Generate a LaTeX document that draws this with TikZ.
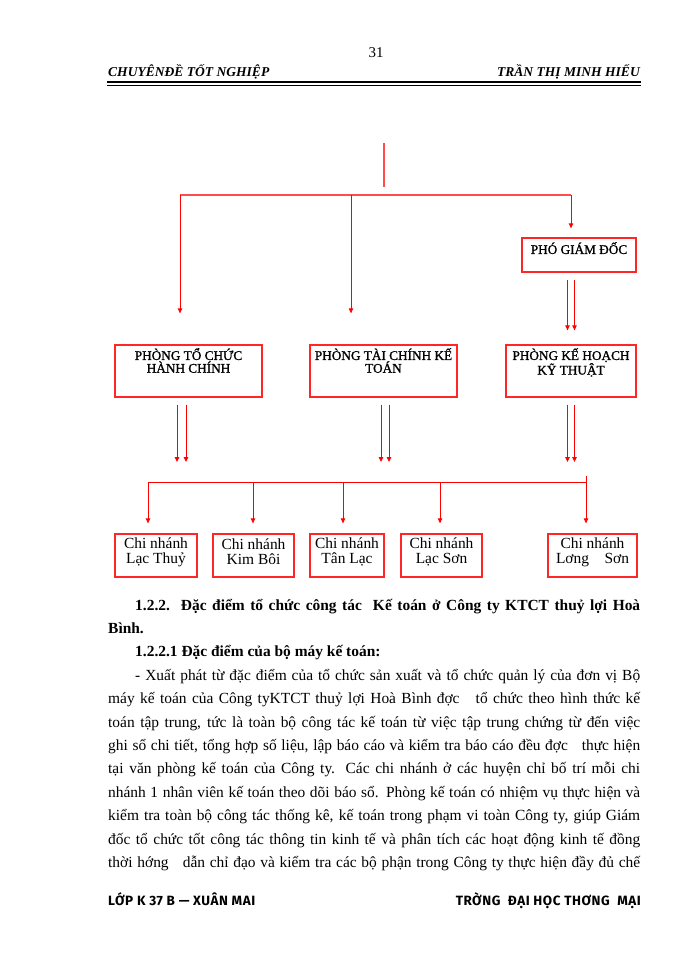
\documentclass[tikz,border=0pt]{standalone}
\usepackage{fontspec}
\setmainfont{Liberation Serif}
\newfontfamily\brushfont[LetterSpace=4]{Fira Sans}
\newfontfamily\boxfont[FakeBold=1.2]{Liberation Serif}
\usetikzlibrary{arrows.meta}
\begin{document}
\begin{tikzpicture}[x=1bp,y=-1bp,
  topline/.style={draw=red!70, line width=1.6bp},
  arr/.style={draw=red, line width=0.9bp, -{Triangle[length=5bp,width=4.5bp]}},
  plain/.style={draw=red, line width=0.9bp},
  box/.style={draw=red!85, line width=1.3bp, inner sep=0pt},
  boxlbl/.style={inner sep=0pt, align=center, font=\fontsize{13.3}{12.8}\selectfont\boxfont},
  cnlbl/.style={inner sep=0pt, align=center, font=\fontsize{15.5}{15}\selectfont},
  body/.style={inner sep=0pt, anchor=base west, font=\fontsize{15.5}{18}\selectfont},
  hdr/.style={inner sep=0pt, font=\fontsize{13.6}{15}\selectfont\bfseries\itshape},
  ftr/.style={inner sep=0pt, font=\fontsize{13.5}{15}\selectfont\brushfont\bfseries}
]
\fill[white] (0,0) rectangle (700,960);
\useasboundingbox (0,0) rectangle (700,960);

% header
\node[inner sep=0pt, font=\fontsize{15}{17}\selectfont] (pg) at (376,53) {31};
\node[hdr, anchor=base west] (hl) at (108,76) {CHUYÊNĐỀ TỐT NGHIỆP};
\node[hdr, anchor=base east] (hr) at (640,76) {TRẦN THỊ MINH HIẾU};
\coordinate (rl) at (107,82);
\coordinate (rr) at (641,82);
\draw[line width=1.5bp] (rl) -- (rr);
\draw[line width=0.6bp] ([yshift=-3bp]rl) -- ([yshift=-3bp]rr);

% boxes
\node[box, minimum width=114bp, minimum height=34bp] (pgd) at (579,255) {};
\node[boxlbl, anchor=north] (pgdt) at (579,242) {PHÓ GIÁM ĐỐC};
\node[box, minimum width=147bp, minimum height=52bp] (b1) at (188.5,371) {};
\node[boxlbl, anchor=north] (b1t) at (188.5,348) {PHÒNG TỔ CHỨC\\HÀNH CHÍNH};
\node[box, minimum width=147bp, minimum height=52bp] (b2) at (383.5,371) {};
\node[boxlbl, anchor=north] (b2t) at (383.5,348) {PHÒNG TÀI CHÍNH KẾ\\TOÁN};
\node[box, minimum width=130bp, minimum height=52bp] (b3) at (571,371) {};
\node[boxlbl, anchor=north] (b3t) at (571,348) {PHÒNG KẾ HOẠCH\\KỸ THUẬT};

\node[box, minimum width=82bp, minimum height=43bp] (cA) at (156,555.5) {};
\node[cnlbl] (cAt) at (156,552) {Chi nhánh\\Lạc Thuỷ};
\node[box, minimum width=81bp, minimum height=43bp] (cB) at (253.5,555.5) {};
\node[cnlbl] (cBt) at (253.5,552) {Chi nhánh\\Kim Bôi};
\node[box, minimum width=74bp, minimum height=43bp] (cC) at (347,555.5) {};
\node[cnlbl] (cCt) at (347,552) {Chi nhánh\\Tân Lạc};
\node[box, minimum width=81bp, minimum height=43bp] (cD) at (441.5,555.5) {};
\node[cnlbl] (cDt) at (441.5,552) {Chi nhánh\\Lạc Sơn};
\node[box, minimum width=89bp, minimum height=43bp] (cE) at (592.5,555.5) {};
\node[cnlbl] (cEt) at (592.5,552) {Chi nhánh\\Lơng\ \ \ \ Sơn};

% top connectors
\coordinate (t0) at (384,143);
\coordinate (t1) at (384,187);
\draw[topline] (t0) -- (t1);
\coordinate (h1) at (180,195);
\coordinate (h2) at (571,195);
\coordinate (h3) at (351,195);
\draw[topline] (h1) -- (h2);
\draw[arr, shorten >=31bp] (h1) -- (h1 |- b1.north);
\draw[arr, shorten >=31bp] (h3) -- (h3 |- b2.north);
\draw[arr, shorten >=9bp] (h2) -- (h2 |- pgd.north);

% double arrows
\coordinate (p1) at (567.5,0);
\coordinate (p2) at (574.5,0);
\draw[arr, shorten <=7bp, shorten >=14bp] (p1 |- pgd.south) -- (p1 |- b3.north);
\draw[arr, shorten <=7bp, shorten >=14bp] (p2 |- pgd.south) -- (p2 |- b3.north);

\coordinate (q1) at (177,0);
\coordinate (q2) at (186,0);
\coordinate (q3) at (381,0);
\coordinate (q4) at (389,0);
\coordinate (q5) at (567.5,0);
\coordinate (q6) at (574.5,0);
\coordinate (br1) at (148,482);
\coordinate (br2) at (586,482);
\foreach \q in {q1,q2,q3,q4,q5,q6}{
  \draw[arr, shorten <=7bp] (\q |- b1.south) -- (\q |- 0,462);
}

% branch line
\draw[plain] (br1) -- (br2);
\draw[plain] (br2) -- ([yshift=6bp]br2);
\coordinate (v2) at (253,482);
\coordinate (v3) at (343,482);
\coordinate (v4) at (440,482);
\draw[arr, shorten >=10bp] (br1) -- (br1 |- cA.north);
\draw[arr, shorten >=10bp] (v2) -- (v2 |- cB.north);
\draw[arr, shorten >=10bp] (v3) -- (v3 |- cC.north);
\draw[arr, shorten >=10bp] (v4) -- (v4 |- cD.north);
\draw[arr, shorten >=10bp] (br2) -- (br2 |- cE.north);

% body text
\node[body, font=\fontsize{15.5}{18}\selectfont\bfseries] (l1) at (135,610) {\makebox[505bp][s]{1.2.2.\ \ Đặc điểm tổ chức công tác\ \ Kế toán ở Công ty KTCT thuỷ lợi Hoà}};
\node[body, font=\fontsize{15.5}{18}\selectfont\bfseries] (l2) at (108,633.4) {Bình.};
\node[body, font=\fontsize{15.5}{18}\selectfont\bfseries] (l3) at (135,656.8) {1.2.2.1 Đặc điểm của bộ máy kế toán:};
\node[body] (l4) at (135,680.2) {\makebox[505bp][s]{- Xuất phát từ đặc điểm của tổ chức sản xuất và tổ chức quản lý của đơn vị Bộ}};
\node[body] (l5) at (108,703.6) {\makebox[532bp][s]{máy kế toán của Công tyKTCT thuỷ lợi Hoà Bình đợc\ \ \ tổ chức theo hình thức kế}};
\node[body] (l6) at (108,727) {\makebox[532bp][s]{toán tập trung, tức là toàn bộ công tác kế toán từ việc tập trung chứng từ đến việc}};
\node[body] (l7) at (108,750.4) {\makebox[532bp][s]{ghi sổ chi tiết, tổng hợp số liệu, lập báo cáo và kiểm tra báo cáo đều đợc\ \ \ thực hiện}};
\node[body] (l8) at (108,773.8) {\makebox[532bp][s]{tại văn phòng kế toán của Công ty. Các chi nhánh ở các huyện chỉ bố trí mỗi chi}};
\node[body] (l9) at (108,797.2) {\makebox[532bp][s]{nhánh 1 nhân viên kế toán theo dõi báo sổ. Phòng kế toán có nhiệm vụ thực hiện và}};
\node[body] (l10) at (108,820.6) {\makebox[532bp][s]{kiểm tra toàn bộ công tác thống kê, kế toán trong phạm vi toàn Công ty, giúp Giám}};
\node[body] (l11) at (108,844) {\makebox[532bp][s]{đốc tổ chức tốt công tác thông tin kinh tế và phân tích các hoạt động kinh tế đồng}};
\node[body] (l12) at (108,867.4) {\makebox[532bp][s]{thời hớng\ \ \ dẫn chỉ đạo và kiểm tra các bộ phận trong Công ty thực hiện đầy đủ chế}};

% footer
\node[ftr, anchor=base west] (fl) at (108,905) {LỚP K 37 B — XUÂN MAI};
\node[ftr, anchor=base east] (fr) at (641,905) {TRỜNG\ \ ĐẠI HỌC THƠNG\ \ MẠI};
\end{tikzpicture}
\end{document}
